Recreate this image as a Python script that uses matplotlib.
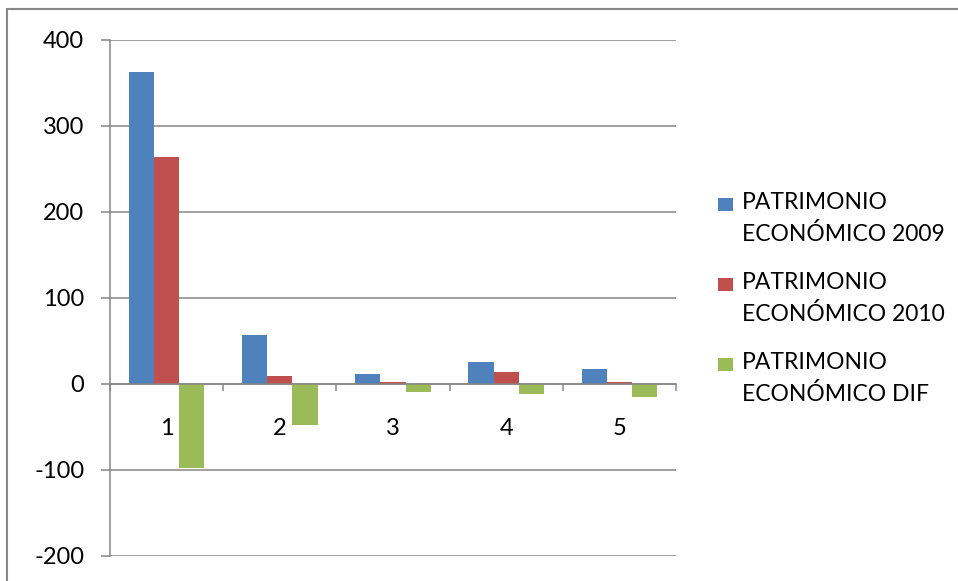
import matplotlib
matplotlib.use("Agg")
import matplotlib.pyplot as plt
from matplotlib.patches import Rectangle
import numpy as np

categories = ["1", "2", "3", "4", "5"]
series_names = ["PATRIMONIO\nECONÓMICO 2009", "PATRIMONIO\nECONÓMICO 2010", "PATRIMONIO\nECONÓMICO DIF"]
pat_2009 = [362, 57, 12, 25, 17.7]
pat_2010 = [263.7, 8.7, 2.6, 13.5, 2.6]
pat_dif = [-98.3, -48, -9, -11.7, -15]
colors = ["#4F81BD", "#C0504D", "#9BBB59"]
yticks = [-200, -100, 0, 100, 200, 300, 400]

plt.rcParams['font.family'] = ['Lato', 'DejaVu Sans']

W, H = 958, 581
fig = plt.figure(figsize=(W/100, H/100), dpi=100)
ax = fig.add_axes([110/W, (H-556)/H, (676-110)/W, (556-39.7)/H])

x = np.arange(1, len(categories)+1)
bw = 0.2225
for k, (vals, c) in enumerate(zip([pat_2009, pat_2010, pat_dif], colors)):
    ax.bar(x + (k-1)*bw, vals, width=bw, color=c, zorder=3)

ax.set_xlim(0.5, len(categories)+0.5)
ax.set_ylim(-200, 400)
ax.set_yticks(yticks)
ax.set_yticklabels([str(v) for v in yticks])
ax.yaxis.grid(True, color="#868686", linewidth=1.1, zorder=0)
ax.set_axisbelow(True)

grey = "#868686"
for s in ["top", "right"]:
    ax.spines[s].set_visible(False)
ax.spines["bottom"].set_position(("data", 0))
ax.spines["bottom"].set_color(grey)
ax.spines["bottom"].set_zorder(4)
ax.spines["left"].set_color(grey)
ax.spines["left"].set_linewidth(1.1)
ax.spines["bottom"].set_linewidth(1.1)

ax.set_xticks(x)
ax.set_xticklabels(categories)
ax.set_xticks(np.arange(0.5, len(categories)+1, 1.0), minor=True)
ax.tick_params(axis="x", which="major", length=0, pad=24.5, labelsize=17, colors="#000000")
ax.tick_params(axis="x", which="minor", length=5, direction="out", color=grey, width=1.1)
ax.tick_params(axis="y", length=6.5, color=grey, width=1.1, pad=12, labelsize=17)

# Outer chart border
fig.patches.append(Rectangle((7/W, -0.05), 1.1, (H-9)/H + 0.05, transform=fig.transFigure,
                             fill=False, edgecolor="#868686", linewidth=1.5))

# Legend
leg_y = [204, 284, 364]
for name, c, yy in zip(series_names, colors, leg_y):
    fig.patches.append(Rectangle((718/W, (H-yy-6.5)/H), 15/W, 13/H, transform=fig.transFigure,
                                 facecolor=c, edgecolor="none"))
    fig.text(742/W, (H-yy+12)/H, name, fontsize=16.5, va="top", ha="left", linespacing=1.55)

fig.savefig("out.png", dpi=100)
